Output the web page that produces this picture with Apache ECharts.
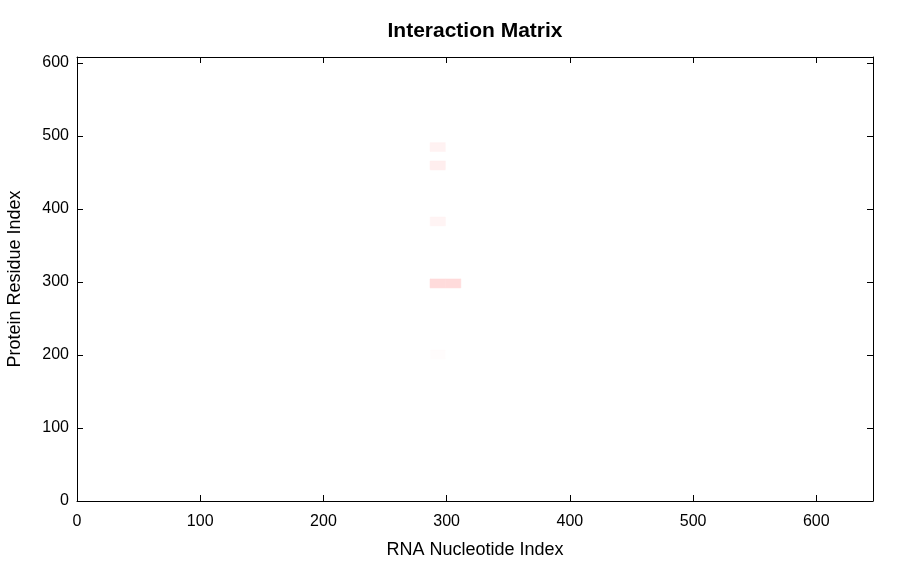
<!DOCTYPE html>
<html><head><meta charset="utf-8">
<script src="https://cdn.jsdelivr.net/npm/echarts@6/dist/echarts.min.js"></script>
<style>html,body{margin:0;padding:0;background:#fff}#c{width:900px;height:562px}</style>
</head><body><div id="c"></div>
<script>
const xTicks = [0, 100, 200, 300, 400, 500, 600];
const yTicks = [0, 100, 200, 300, 400, 500, 600];
const xMax = 646;
const yMax = 608;
const binW = 12.5;
const binH = 12.3;
const cellX = [286.5, 286.5, 286.5, 286.5, 299, 286.5];
const cellY = [478.5, 453.4, 376.7, 291.8, 291.8, 194.5];
const cellValue = [0.05, 0.065, 0.045, 0.14, 0.14, 0.012];

const data = cellX.map((x, i) => [x, x + binW, cellY[i], cellY[i] + binH, cellValue[i]]);
const font = 'Liberation Sans, Arial, sans-serif';
const chart = echarts.init(document.getElementById('c'));
const axisCommon = {
  type: 'value', interval: 100, splitLine: {show: false},
  axisLine: {show: true, onZero: false, lineStyle: {color: '#000', width: 1}},
  axisTick: {show: true, inside: true, length: 6, lineStyle: {color: '#000'}}
};
chart.setOption({
  animation: false,
  title: {text: 'Interaction Matrix', left: 470, top: 16, textAlign: 'center',
    textStyle: {fontFamily: font, fontSize: 21, fontWeight: 'bold', color: '#000'}},
  grid: {left: 77, right: 27, top: 57, bottom: 61, outerBoundsMode: 'none', containLabel: false},
  visualMap: {show: false, min: 0, max: 1, dimension: 4, inRange: {color: ['#ffffff', '#ff0000']}},
  xAxis: [
    Object.assign({}, axisCommon, {min: 0, max: xMax, position: 'bottom',
      name: 'RNA Nucleotide Index', nameLocation: 'middle', nameGap: 40,
      nameTextStyle: {fontFamily: font, fontSize: 18, color: '#000'},
      axisTick: Object.assign({}, axisCommon.axisTick, {customValues: xTicks}),
      axisLabel: {customValues: xTicks, margin: 13, fontFamily: font, fontSize: 16, color: '#000'}}),
    Object.assign({}, axisCommon, {min: 0, max: xMax, position: 'top',
      axisTick: Object.assign({}, axisCommon.axisTick, {customValues: xTicks}),
      axisLabel: {show: false}})
  ],
  yAxis: [
    Object.assign({}, axisCommon, {min: 0, max: yMax, position: 'left',
      name: 'Protein Residue Index', nameLocation: 'middle', nameGap: 53, nameRotate: 90,
      nameTextStyle: {fontFamily: font, fontSize: 18, color: '#000'},
      axisTick: Object.assign({}, axisCommon.axisTick, {customValues: yTicks}),
      axisLabel: {customValues: yTicks, margin: 8, fontFamily: font, fontSize: 16, color: '#000'}}),
    Object.assign({}, axisCommon, {min: 0, max: yMax, position: 'right',
      axisTick: Object.assign({}, axisCommon.axisTick, {customValues: yTicks}),
      axisLabel: {show: false}})
  ],
  series: [{
    type: 'custom', xAxisIndex: 0, yAxisIndex: 0, data: data,
    encode: {x: [0, 1], y: [2, 3]},
    renderItem: function (params, api) {
      const p0 = api.coord([api.value(0), api.value(3)]);
      const p1 = api.coord([api.value(1), api.value(2)]);
      const c = api.visual('color');
      return {type: 'rect', shape: {x: p0[0], y: p0[1], width: p1[0] - p0[0], height: p1[1] - p0[1]},
        style: {fill: c, stroke: c, lineWidth: 0.5}};
    }
  }]
});
</script></body></html>
